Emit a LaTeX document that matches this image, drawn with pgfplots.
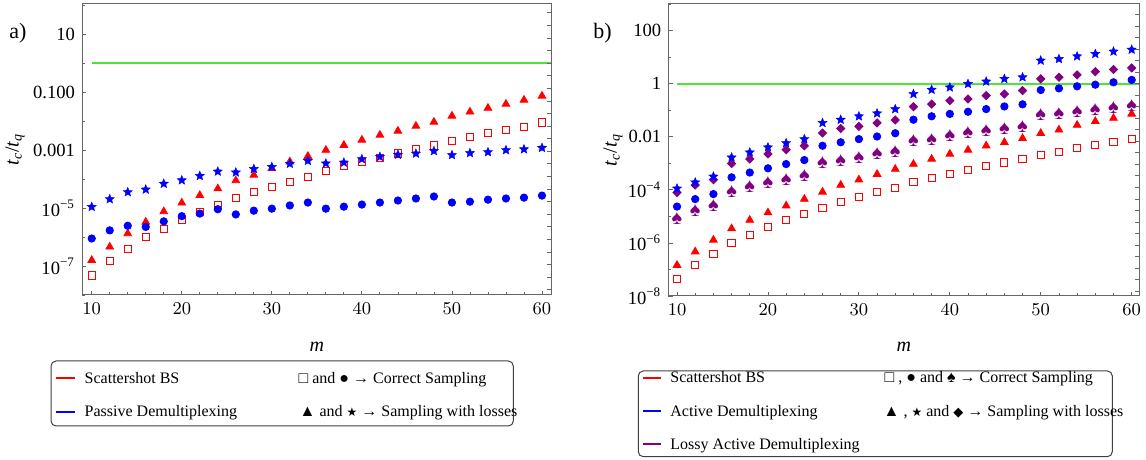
\documentclass[border=0pt]{standalone}
\usepackage{pgfplots}
\pgfplotsset{compat=1.18}
\usepackage{pgfplotstable}
\usepackage{fontspec}
\setmainfont{Liberation Serif}
\newfontfamily\sym{DejaVu Sans}
\definecolor{mred}{rgb}{1,0,0}
\definecolor{mblue}{rgb}{0,0,1}
\definecolor{mpurple}{rgb}{0.5,0,0.5}
\definecolor{mgreen}{rgb}{0.3,0.9,0.2}
\definecolor{frame}{gray}{0.4}

\pgfdeclareplotmark{fstar}{%
 \pgfpathmoveto{\pgfpointpolar{90}{\pgfplotmarksize}}%
 \pgfpathlineto{\pgfpointpolar{126}{0.45\pgfplotmarksize}}%
 \pgfpathlineto{\pgfpointpolar{162}{\pgfplotmarksize}}%
 \pgfpathlineto{\pgfpointpolar{198}{0.45\pgfplotmarksize}}%
 \pgfpathlineto{\pgfpointpolar{234}{\pgfplotmarksize}}%
 \pgfpathlineto{\pgfpointpolar{270}{0.45\pgfplotmarksize}}%
 \pgfpathlineto{\pgfpointpolar{306}{\pgfplotmarksize}}%
 \pgfpathlineto{\pgfpointpolar{342}{0.45\pgfplotmarksize}}%
 \pgfpathlineto{\pgfpointpolar{18}{\pgfplotmarksize}}%
 \pgfpathlineto{\pgfpointpolar{54}{0.45\pgfplotmarksize}}%
 \pgfpathclose
 \pgfusepathqfillstroke}

% panel a) : Scattershot BS vs Passive Demultiplexing
\pgfplotstableread{
m  sq      tri     cir     star
10 4.68e-8 1.58e-7 8.91e-7 1.10e-5
12 1.48e-7 4.57e-7 1.70e-6 2.04e-5
14 3.98e-7 1.32e-6 2.45e-6 3.55e-5
16 1.00e-6 3.31e-6 2.24e-6 4.37e-5
18 1.95e-6 7.59e-6 3.47e-6 6.92e-5
20 3.80e-6 1.51e-5 5.25e-6 9.12e-5
22 7.41e-6 2.75e-5 6.46e-6 1.29e-4
24 1.26e-5 4.68e-5 9.12e-6 1.82e-4
26 2.24e-5 8.91e-5 6.03e-6 1.70e-4
28 3.63e-5 1.38e-4 8.13e-6 2.24e-4
30 5.37e-5 2.34e-4 9.55e-6 2.63e-4
32 7.94e-5 3.98e-4 1.23e-5 3.39e-4
34 1.20e-4 6.17e-4 1.55e-5 4.27e-4
36 1.86e-4 1.00e-3 9.55e-6 3.47e-4
38 2.88e-4 1.48e-3 1.12e-5 3.72e-4
40 3.80e-4 2.24e-3 1.32e-5 4.90e-4
42 5.25e-4 3.31e-3 1.55e-5 5.89e-4
44 7.59e-4 4.57e-3 1.82e-5 6.92e-4
46 1.12e-3 6.76e-3 2.14e-5 7.59e-4
48 1.45e-3 9.33e-3 2.51e-5 9.33e-4
50 2.09e-3 1.51e-2 1.55e-5 6.76e-4
52 2.88e-3 2.09e-2 1.66e-5 7.94e-4
54 3.80e-3 2.82e-2 1.95e-5 8.51e-4
56 5.01e-3 3.89e-2 2.14e-5 1.00e-3
58 6.46e-3 5.37e-2 2.29e-5 1.07e-3
60 8.91e-3 7.41e-2 2.69e-5 1.20e-3
}\tabA

% panel b) : Scattershot BS, Active and Lossy Active Demultiplexing
\pgfplotstableread{
m  sq      tri     cir     star    spade   diam
10 4.47e-8 1.45e-7 2.34e-5 1.12e-4 8.51e-6 7.94e-5
12 1.48e-7 4.68e-7 4.47e-5 1.91e-4 1.62e-5 1.51e-4
14 3.80e-7 1.29e-6 6.92e-5 3.16e-4 2.51e-5 2.40e-4
16 9.77e-7 3.47e-6 2.95e-4 1.66e-3 8.32e-5 9.77e-4
18 2.00e-6 7.24e-6 4.47e-4 2.57e-3 1.29e-4 1.45e-3
20 3.89e-6 1.38e-5 6.46e-4 3.98e-3 1.91e-4 2.24e-3
22 7.24e-6 2.51e-5 9.33e-4 5.75e-3 2.51e-4 3.24e-3
24 1.20e-5 4.47e-5 1.32e-3 8.13e-3 3.55e-4 4.57e-3
26 2.04e-5 8.32e-5 4.57e-3 3.31e-2 1.07e-3 1.38e-2
28 3.55e-5 1.51e-4 6.17e-3 4.37e-2 1.23e-3 2.04e-2
30 5.50e-5 2.40e-4 8.13e-3 5.89e-2 1.66e-3 2.45e-2
32 8.32e-5 3.89e-4 1.02e-2 7.59e-2 2.24e-3 3.31e-2
34 1.20e-4 6.03e-4 1.35e-2 0.110   2.69e-3 4.27e-2
36 1.91e-4 9.33e-4 4.37e-2 0.407   7.08e-3 0.135
38 2.75e-4 1.45e-3 5.89e-2 0.589   8.13e-3 0.170
40 3.98e-4 2.24e-3 7.24e-2 0.724   1.10e-2 0.229
42 5.62e-4 3.16e-3 8.71e-2 0.977   1.45e-2 0.263
44 8.13e-4 4.57e-3 0.110   1.202   1.70e-2 0.355
46 1.07e-3 6.17e-3 0.138   1.514   2.04e-2 0.407
48 1.45e-3 8.71e-3 0.166   1.738   2.45e-2 0.550
50 2.09e-3 1.35e-2 0.575   7.41    6.61e-2 1.514
52 2.69e-3 1.82e-2 0.661   8.51    7.24e-2 1.738
54 3.72e-3 2.75e-2 0.794   10.7    9.12e-2 2.138
56 4.90e-3 3.80e-2 0.912   13.2    0.105   2.818
58 6.46e-3 5.01e-2 1.122   16.2    0.123   3.388
60 8.13e-3 7.24e-2 1.380   19.1    0.148   3.890
}\tabB

\pgfplotsset{
 psq/.style={only marks, mark=square, mark size=1.8pt, color=mred, mark options={line width=0.5pt}},
 ptri/.style={only marks, mark=triangle*, mark size=2.2pt, color=mred},
 pcir/.style={only marks, mark=*, mark size=1.85pt, color=mblue},
 pstar/.style={only marks, mark=fstar, mark size=2.4pt, color=mblue, mark options={line width=0.2pt}},
 pdiam/.style={only marks, mark=square*, mark size=1.45pt, color=mpurple, mark options={rotate=45}},
 pspade/.style={only marks, mark=text, text mark={♠}, text mark as node=true,
   text mark style={font=\fontsize{10}{10}\selectfont, text=mpurple, inner sep=0pt, anchor=center}, color=mpurple},
}

\begin{document}
\begin{tikzpicture}
\path[use as bounding box] (0pt,0pt) rectangle (573pt,230pt);

% ---------- legend sample lines (pixel aligned) ----------
\fill[fill=mred]    (28pt,40.5pt) rectangle (37.5pt,41.5pt);
\fill[fill=mblue]   (28pt,23.5pt) rectangle (37.5pt,24.5pt);
\fill[fill=mred]    (321.5pt,40.5pt) rectangle (330.5pt,41.5pt);
\fill[fill=mblue]   (321.5pt,24pt) rectangle (330.5pt,25pt);
\fill[fill=mpurple] (321.5pt,7.5pt) rectangle (330.5pt,8.5pt);
\draw[draw=black!75, rounded corners=2.5pt, line width=0.5pt] (25.5pt,17pt) rectangle (256.65pt,49.5pt);
\draw[draw=black!75, rounded corners=2.5pt, line width=0.5pt] (319.15pt,1.65pt) rectangle (556.15pt,44.5pt);

% ---------- panel a ----------
\begin{axis}[scale only axis, ymode=log, clip=true,
  at={(41pt,82.5pt)}, anchor=south west, width=234.85pt, height=145.5pt,
  xmin=8.92, xmax=61.08, ymin=1e-8, ymax=110,
  axis line style={draw=frame, line width=0.5pt},
  tick style={draw=frame, line width=0.4pt},
  tick align=inside, xtick pos=left, ytick pos=left,
  major tick length=2.2pt, minor tick length=1.3pt,
  xtick={10,20,30,40,50,60}, minor xtick={12,14,16,18,22,24,26,28,32,34,36,38,42,44,46,48,52,54,56,58},
  ticklabel style={font=\fontsize{9.3}{9.3}\selectfont, text=black},
  xticklabel style={yshift=-0.5pt},
  label style={font=\fontsize{9.5}{9.5}\selectfont},
  xlabel={\textit{m}},
  ylabel={\textit{t}\textsubscript{\textit{c}}/\textit{t}\textsubscript{\textit{q}}},
  ytick={1e-7,1e-5,0.001,0.1,10},
  yticklabels={10\textsuperscript{−7},10\textsuperscript{−5},0.001,0.100,10},
  minor ytick={1e-8,1e-6,1e-4,1e-2,1,100},
  every axis y label/.style={at={(axis description cs:-0.1426,0.5)}, rotate=90, anchor=center},
  every axis x label/.style={at={(axis description cs:0.5,-0.179)}, anchor=center}]
\addplot[mgreen, line width=1pt] coordinates {(10,1) (62,1)};
\addplot[psq] table[x=m, y=sq] {\tabA};
\addplot[ptri] table[x=m, y=tri] {\tabA};
\addplot[pcir] table[x=m, y=cir] {\tabA};
\addplot[pstar] table[x=m, y=star] {\tabA};
\end{axis}
\begin{axis}[scale only axis, ymode=log,
  at={(41pt,82.5pt)}, anchor=south west, width=234.85pt, height=145.5pt,
  xmin=8.92, xmax=61.08, ymin=1e-8, ymax=110,
  axis x line=none, axis y line*=right,
  y axis line style={-, draw=frame, line width=0.5pt},
  tick style={draw=frame, line width=0.4pt},
  tick align=inside, major tick length=2.2pt,
  ytick={1.523e-8,4.140e-8,1.125e-7,3.059e-7,8.315e-7,2.260e-6,6.144e-6,1.670e-5,4.540e-5,1.234e-4,3.355e-4,9.119e-4,2.479e-3,6.738e-3,1.832e-2,4.979e-2,0.1353,0.3679,1,2.718,7.389,20.09,54.60},
  yticklabels={}, minor ytick={}]
\end{axis}

% ---------- panel b ----------
\begin{axis}[scale only axis, ymode=log, clip=true,
  at={(334.15pt,82pt)}, anchor=south west, width=235.5pt, height=146pt,
  xmin=9.04, xmax=60.84, ymin=1e-8, ymax=1000,
  axis line style={draw=frame, line width=0.5pt},
  tick style={draw=frame, line width=0.4pt},
  tick align=inside, xtick pos=left, ytick pos=left,
  major tick length=2.2pt, minor tick length=1.3pt,
  xtick={10,20,30,40,50,60}, minor xtick={12,14,16,18,22,24,26,28,32,34,36,38,42,44,46,48,52,54,56,58},
  ticklabel style={font=\fontsize{9.3}{9.3}\selectfont, text=black},
  xticklabel style={yshift=-0.5pt},
  label style={font=\fontsize{9.5}{9.5}\selectfont},
  xlabel={\textit{m}},
  ylabel={\textit{t}\textsubscript{\textit{c}}/\textit{t}\textsubscript{\textit{q}}},
  ytick={1e-8,1e-6,1e-4,0.01,1,100},
  yticklabels={10\textsuperscript{−8},10\textsuperscript{−6},10\textsuperscript{−4},0.01,1,100},
  minor ytick={1e-7,1e-5,1e-3,0.1,10,1000},
  every axis y label/.style={at={(axis description cs:-0.1174,0.5)}, rotate=90, anchor=center},
  every axis x label/.style={at={(axis description cs:0.5,-0.1747)}, anchor=center}]
\addplot[mgreen, line width=1pt] coordinates {(10,1) (62,1)};
\addplot[psq] table[x=m, y=sq] {\tabB};
\addplot[ptri] table[x=m, y=tri] {\tabB};
\addplot[pcir] table[x=m, y=cir] {\tabB};
\addplot[pspade] table[x=m, y=spade] {\tabB};
\addplot[pdiam] table[x=m, y=diam] {\tabB};
\addplot[pstar] table[x=m, y=star] {\tabB};
\end{axis}
\begin{axis}[scale only axis, ymode=log,
  at={(334.15pt,82pt)}, anchor=south west, width=235.5pt, height=146pt,
  xmin=9.04, xmax=60.84, ymin=1e-8, ymax=1000,
  axis x line=none, axis y line*=right,
  y axis line style={-, draw=frame, line width=0.5pt},
  tick style={draw=frame, line width=0.4pt},
  tick align=inside, major tick length=2.2pt,
  ytick={1.523e-8,4.140e-8,1.125e-7,3.059e-7,8.315e-7,2.260e-6,6.144e-6,1.670e-5,4.540e-5,1.234e-4,3.355e-4,9.119e-4,2.479e-3,6.738e-3,1.832e-2,4.979e-2,0.1353,0.3679,1,2.718,7.389,20.09,54.60,148.4,403.4},
  yticklabels={}, minor ytick={}]
\end{axis}

% panel letters
\node[font=\fontsize{11}{11}\selectfont] at (8.9pt,213.5pt) {a)};
\node[font=\fontsize{11}{11}\selectfont] at (301.25pt,213.5pt) {b)};

% ---------- legend texts ----------
\begin{scope}[every node/.style={font=\fontsize{8}{8}\selectfont, inner sep=0pt, anchor=base west}]
\node at (42.15pt,38.2pt) {Scattershot BS};
\node at (42.15pt,21.5pt) {Passive Demultiplexing};
\node at (149.15pt,38.2pt) {□ and ● → Correct Sampling};
\node at (149.65pt,21.5pt) {▲ and {\sym\fontsize{6}{6}\selectfont ★} → Sampling with losses};
\node at (335pt,38.5pt) {Scattershot BS};
\node at (335pt,21.85pt) {Active Demultiplexing};
\node at (335pt,5.2pt) {Lossy Active Demultiplexing};
\node at (442.15pt,38.5pt) {□ , ● and ♠ → Correct Sampling};
\node at (441.65pt,21.85pt) {▲ , {\sym\fontsize{6}{6}\selectfont ★} and {\sym\fontsize{6.5}{6.5}\selectfont ◆} → Sampling with losses};
\end{scope}
\end{tikzpicture}
\end{document}
